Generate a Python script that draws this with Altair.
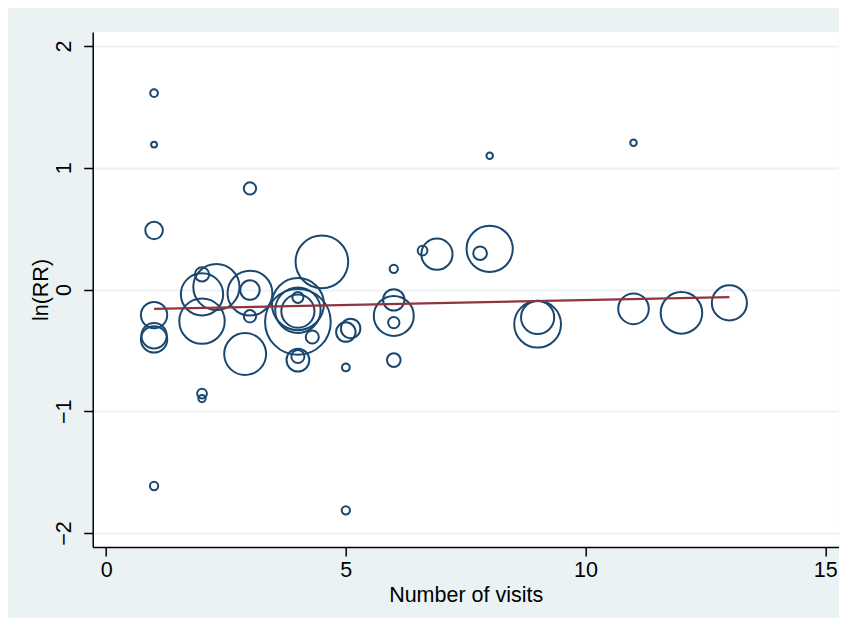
import altair as alt
import pandas as pd

# Study-level data: mean number of visits, ln(RR), and relative study weight
visits = [1, 1, 3, 1, 4.5, 6, 6.6, 6.9, 8, 7.8,
          2, 2, 2.3, 2, 1, 1, 1, 3, 3, 3,
          2.9, 4, 4, 4, 4, 4, 4.3, 4, 4, 5,
          5.1, 5, 6, 6, 6, 6, 2, 2, 1, 5,
          8, 11, 9, 9, 11, 12, 13]
lnrr = [1.613, 1.19, 0.83, 0.485, 0.227, 0.17, 0.32, 0.29, 0.334, 0.298,
        0.124, -0.04, 0.02, -0.26, -0.21, -0.38, -0.41, -0.03, -0.005, -0.22,
        -0.53, -0.065, -0.12, -0.17, -0.266, -0.178, -0.39, -0.58, -0.55, -0.35,
        -0.32, -0.64, -0.085, -0.217, -0.272, -0.58, -0.855, -0.896, -1.614, -1.814,
        1.098, 1.205, -0.285, -0.23, -0.159, -0.192, -0.11]
weight = [16, 9, 40, 81, 729, 18, 25, 256, 562, 49,
          53, 471, 562, 543, 182, 169, 182, 529, 100, 40,
          462, 32, 713, 543, 1136, 289, 45, 137, 45, 100,
          100, 16, 121, 420, 34, 49, 25, 14, 18, 18,
          11, 11, 576, 289, 246, 454, 324]

# Fitted (meta-regression) line
fit_x = [1, 13]
fit_y = [-0.159, -0.063]

df = pd.DataFrame({"visits": visits, "lnrr": lnrr, "weight": weight})
fit = pd.DataFrame({"visits": fit_x, "fit": fit_y})

FONT = "Liberation Sans"
NAVY = "#1a476f"
MAROON = "#90353b"
BG = "#EAF2F3"

x_scale = alt.Scale(domain=[-0.28, 15.28], nice=False, zero=False)
y_scale = alt.Scale(domain=[-2.115, 2.115], nice=False, zero=False)

x_axis = alt.Axis(values=[0, 5, 10, 15], title="Number of visits", grid=False,
                  labelFontSize=21.5, titleFontSize=21.5, labelFont=FONT, titleFont=FONT,
                  labelColor="black", titleColor="black", titleFontWeight="normal",
                  domainColor="black", domainWidth=1.5, tickColor="black", tickWidth=1.5,
                  tickSize=9, labelPadding=3, titlePadding=4, format="d")
y_axis = alt.Axis(values=[-2, -1, 0, 1, 2], title="ln(RR)", grid=True, gridColor=BG,
                  gridWidth=2, labelAngle=270, labelFontSize=21.5, titleFontSize=21.5,
                  labelFont=FONT, titleFont=FONT, labelColor="black", titleColor="black",
                  titleFontWeight="normal", domainColor="black", domainWidth=1.5,
                  tickColor="black", tickWidth=1.5, tickSize=9, labelPadding=8,
                  titlePadding=1, format="d")

points = alt.Chart(df).mark_point(shape="circle", filled=False, stroke=NAVY,
                                  strokeWidth=2, opacity=1).encode(
    x=alt.X("visits:Q", scale=x_scale, axis=x_axis),
    y=alt.Y("lnrr:Q", scale=y_scale, axis=y_axis),
    size=alt.Size("weight:Q", scale=alt.Scale(domain=[0, 1000], range=[0, 3800]), legend=None),
)

line = alt.Chart(fit).mark_line(color=MAROON, strokeWidth=2.2).encode(
    x=alt.X("visits:Q", scale=x_scale),
    y=alt.Y("fit:Q", scale=y_scale),
)

chart = alt.layer(points, line).properties(
    width=746, height=515, background=BG,
    autosize=alt.AutoSizeParams(type="none"),
    padding={"left": 84.7, "top": 24, "right": 0.3, "bottom": 71},
).configure_view(fill="white", stroke="white", strokeWidth=0)

chart.save("out.html", embed_options={"renderer": "svg", "actions": False})
